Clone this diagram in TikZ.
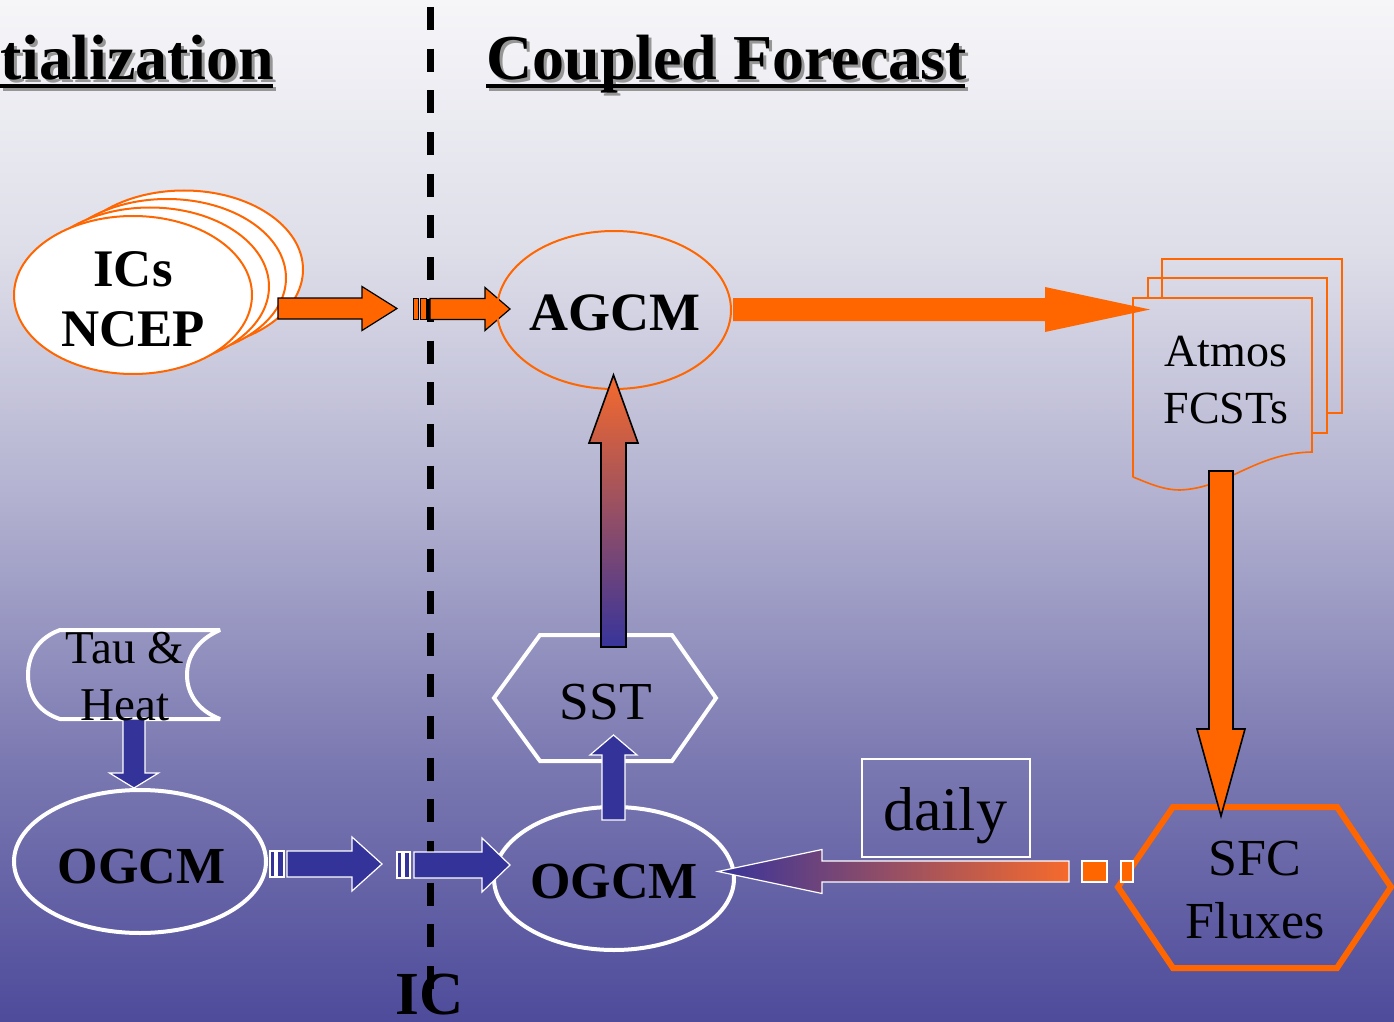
\documentclass[tikz,border=0pt]{standalone}
\usepackage{fontspec}
\setmainfont{Liberation Serif}
\usetikzlibrary{shapes.geometric,calc}
\definecolor{orng}{RGB}{255,102,0}
\definecolor{navy}{RGB}{51,51,153}
\definecolor{gradblue}{RGB}{55,52,155}
\definecolor{gradorng}{RGB}{246,106,44}
\definecolor{bgA}{RGB}{246,246,249}
\definecolor{bgB}{RGB}{222,222,233}
\definecolor{bgC}{RGB}{178,177,208}
\definecolor{bgD}{RGB}{125,123,178}
\definecolor{bgE}{RGB}{78,75,155}
\definecolor{shadowgray}{RGB}{150,150,150}
\pgfdeclareverticalshading{bgshade}{100bp}{color(0bp)=(bgE); color(25bp)=(bgE); color(38.3bp)=(bgD); color(50.55bp)=(bgC); color(62.75bp)=(bgB); color(75bp)=(bgA); color(100bp)=(bgA)}
% block arrow: [style]{from}{to}{half shaft}{half head}{head length}
\newcommand\blockarrow[6][]{%
  \coordinate (bah) at ($(#3)!#6!(#2)$);
  \path[#1] ($(#2)!#4!90:(#3)$) -- ($(bah)!#4!90:(#3)$) -- ($(bah)!#5!90:(#3)$) -- (#3)
     -- ($(bah)!#5!-90:(#3)$) -- ($(bah)!#4!-90:(#3)$) -- ($(#2)!#4!-90:(#3)$) -- cycle;
}
\begin{document}
\begin{tikzpicture}[x=0.5pt,y=-0.5pt,
  titletext/.style={font=\bfseries\fontsize{32pt}{38pt}\selectfont, inner sep=0pt, anchor=base west},
  icline/.style={line width=3.5pt, dash pattern=on 11.5pt off 9.35pt},
  icsell/.style={ellipse, draw=orng, line width=1pt, fill=white, minimum width=119pt, minimum height=79pt, inner sep=0pt},
  whiteell/.style={ellipse, draw=white, line width=2pt, minimum width=#1, minimum height=71.5pt, inner sep=0pt},
  boldlbl/.style={font=\bfseries\fontsize{26.4pt}{30pt}\selectfont, inner sep=0pt, align=center},
  lbl/.style={font=\fontsize{23.5pt}{28.5pt}\selectfont, inner sep=0pt, align=center},
  orarrow/.style={fill=orng, draw=black, line width=0.6pt},
  bluearrow/.style={fill=navy, draw=white, line width=0.6pt},
  bluebar/.style={fill=navy, draw=white, line width=0.6pt},
  orbar/.style={fill=orng, draw=white, line width=0.6pt},
  docline/.style={draw=orng, line width=0.8pt}
]
\useasboundingbox (0,0) rectangle (1394,1022);
\fill[shading=bgshade] (0,0) rectangle (1394,1022);

% IC dividing line
\coordinate (dtop) at (430,7);
\coordinate (dbot) at (430,1000);
\draw[icline] (dtop) -- (dbot);

% titles
\node[titletext, text=shadowgray] at (3,83) {tialization};
\fill[shadowgray] (3,87) rectangle (276,91);
\node[titletext] (tinit) at (0,80) {tialization};
\fill[black] (0,84) rectangle (273,88);
\node[titletext, text=shadowgray] at (489,83) {Coupled Forecast};
\fill[shadowgray] (489,87) rectangle (968,91);
\node[titletext] (tcf) at (486,80) {Coupled Forecast};
\fill[black] (486,84) rectangle (965,88);

% ICs NCEP stack
\foreach \k in {3,2,1,0} {
  \node[icsell] (icsE\k) at ({133+17*\k},{295-8.5*\k}) {};
}
\node[boldlbl] (ics) at (133,299) {ICs\\NCEP};

% orange arrows ICs -> AGCM
\coordinate (o1s) at (278,308.5);
\coordinate (o1e) at (397,308.5);
\blockarrow[orarrow]{o1s}{o1e}{5.25pt}{11pt}{17.5pt}
\coordinate (o2s) at (430,309);
\coordinate (o2e) at (510,309);
\draw[orarrow, line width=0.5pt] (413,298.5) rectangle (418,319.5);
\draw[orarrow, line width=0.5pt] (420,298.5) rectangle (426,319.5);
\blockarrow[orarrow]{o2s}{o2e}{5.25pt}{10.75pt}{12.5pt}

% AGCM
\node[ellipse, draw=orng, line width=1pt, minimum width=117pt, minimum height=79pt, inner sep=0pt] (agcmE) at (614,310) {};
\node[boldlbl, font=\bfseries\fontsize{27pt}{30pt}\selectfont, anchor=base] (agcm) at (615,330) {AGCM};

% Atmos FCSTs documents
\draw[docline] (1162,298) -- (1162,259) -- (1342,259) -- (1342,413) -- (1327,413);
\draw[docline] (1148,298) -- (1148,278) -- (1327,278) -- (1327,433) -- (1312,433);
\draw[docline] (1133,477) -- (1133,298) -- (1312,298) -- (1312,452)
   .. controls (1255,453) and (1228,488) .. (1180,490)
   .. controls (1162,490) and (1146,482) .. (1133,477);
\node[lbl, font=\fontsize{23pt}{28.5pt}\selectfont] (atmos) at (1226,380) {Atmos\\FCSTs};

% AGCM -> Atmos
\coordinate (a1s) at (733,309.5);
\coordinate (a1e) at (1150,309.5);
\blockarrow[fill=orng]{a1s}{a1e}{5.75pt}{11.25pt}{52.5pt}

% SFC Fluxes
\draw[orng, line width=3pt, line join=miter] (1118,887) -- (1173,807) -- (1337,807) -- (1391,887) -- (1337,968) -- (1173,968) -- cycle;
\node[lbl, font=\fontsize{26pt}{31.5pt}\selectfont] (sfc) at (1255,890) {SFC\\Fluxes};

% Atmos -> SFC
\coordinate (d1s) at (1221,471);
\coordinate (d1e) at (1221,816);
\blockarrow[orarrow, line width=0.8pt]{d1s}{d1e}{6pt}{12pt}{43.5pt}

% daily box
\draw[white, line width=0.8pt] (862,759) rectangle (1030,857);
\node[font=\fontsize{31pt}{36pt}\selectfont, inner sep=0pt, anchor=base] (daily) at (945,830) {daily};

% OGCM (right)
\node[whiteell=120pt] (ogcmRE) at (614,878.5) {};
\node[boldlbl, font=\bfseries\fontsize{26pt}{30pt}\selectfont, anchor=base] (ogcmR) at (614,898) {OGCM};

% SFC -> OGCM (daily)
\draw[orbar] (1121,861) rectangle (1133,882);
\draw[orbar] (1082,861) rectangle (1107,882);
\coordinate (g1s) at (1069,871.5);
\coordinate (g1e) at (718,871.5);
\blockarrow[left color=gradblue, right color=gradorng, draw=white, line width=0.6pt]{g1s}{g1e}{5.25pt}{11pt}{52pt}

% SST
\draw[white, line width=2pt] (494,698) -- (540,635) -- (672,635) -- (716,698) -- (672,761) -- (540,761) -- cycle;
\node[font=\fontsize{26.7pt}{30pt}\selectfont, inner sep=0pt, anchor=base] (sst) at (606,719) {SST};

% OGCM -> SST
\coordinate (u1s) at (613.5,820);
\coordinate (u1e) at (613.5,735);
\blockarrow[bluearrow]{u1s}{u1e}{5.75pt}{11.75pt}{10pt}

% SST -> AGCM
\coordinate (u2s) at (613.5,647);
\coordinate (u2e) at (613.5,375);
\blockarrow[top color=gradorng, bottom color=gradblue, draw=black, line width=0.8pt]{u2s}{u2e}{6.25pt}{12.25pt}{34pt}

% Tau & Heat
\draw[white, line width=2pt, line join=bevel] (60,630) -- (220,630)
   .. controls (197,640) and (187,657) .. (187,675)
   .. controls (187,693) and (197,710) .. (220,719)
   -- (60,719)
   .. controls (38,712) and (28,695) .. (28,675)
   .. controls (28,655) and (38,638) .. (60,630) -- cycle;
\coordinate (t1s) at (134,719);
\coordinate (t1e) at (134,788);
\blockarrow[bluearrow]{t1s}{t1e}{5.5pt}{12.25pt}{7.5pt}
\node[lbl] (tau) at (125,677) {Tau \&\\Heat};

% OGCM (left)
\node[whiteell=126pt] (ogcmLE) at (140,861.5) {};
\node[boldlbl, font=\bfseries\fontsize{26pt}{30pt}\selectfont, anchor=base] (ogcmL) at (141.5,883) {OGCM};

% OGCM left -> OGCM right
\draw[bluebar] (270,851) rectangle (275,877);
\draw[bluebar] (277,851) rectangle (284,877);
\coordinate (b1s) at (287,864);
\coordinate (b1e) at (382,864);
\blockarrow[bluearrow]{b1s}{b1e}{6.5pt}{13.5pt}{15pt}
\draw[bluebar] (397,852) rectangle (402,878);
\draw[bluebar] (404,852) rectangle (410,878);
\coordinate (b2s) at (414,865);
\coordinate (b2e) at (510,865);
\blockarrow[bluearrow]{b2s}{b2e}{6.5pt}{13.5pt}{14pt}

% IC label
\node[font=\bfseries\fontsize{30.6pt}{34pt}\selectfont, inner sep=0pt, anchor=base] (iclbl) at (430,1014) {IC};
\end{tikzpicture}
\end{document}
